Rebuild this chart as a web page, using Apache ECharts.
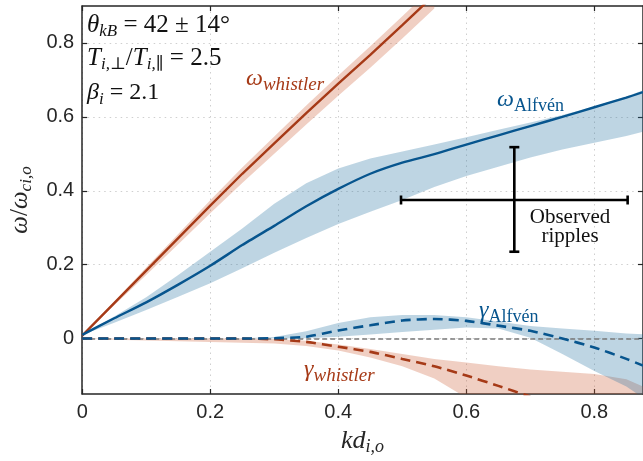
<!DOCTYPE html>
<html>
<head>
<meta charset="utf-8">
<script src="https://cdn.jsdelivr.net/npm/echarts@6/dist/echarts.min.js"></script>
<style>html,body{margin:0;padding:0;background:#fff;}#c{width:643px;height:461px;}</style>
</head>
<body>
<div id="c"></div>
<script>
// ---- data ----
const kd = [0, 0.05, 0.1, 0.15, 0.2, 0.25, 0.3, 0.35, 0.4, 0.45, 0.5, 0.55, 0.6, 0.65, 0.7, 0.75, 0.8, 0.85, 0.876];
const alfvenOmega   = [0.01, 0.055, 0.098, 0.146, 0.197, 0.253, 0.305, 0.358, 0.405, 0.446, 0.476, 0.499, 0.525, 0.55, 0.575, 0.6, 0.626, 0.652, 0.667];
const alfvenOmegaHi = [0.01, 0.06, 0.112, 0.172, 0.235, 0.298, 0.365, 0.42, 0.46, 0.487, 0.506, 0.525, 0.545, 0.565, 0.585, 0.605, 0.628, 0.655, 0.672];
const alfvenOmegaLo = [0.01, 0.043, 0.077, 0.113, 0.15, 0.19, 0.232, 0.272, 0.31, 0.343, 0.375, 0.41, 0.44, 0.465, 0.49, 0.512, 0.53, 0.548, 0.56];

const kdW = [0, 0.05, 0.1, 0.15, 0.2, 0.25, 0.3, 0.35, 0.4, 0.45, 0.5, 0.55];
const whistlerOmega   = [0.008, 0.096, 0.184, 0.272, 0.36, 0.446, 0.528, 0.61, 0.69, 0.768, 0.848, 0.93];
const whistlerOmegaHi = [0.008, 0.100, 0.192, 0.283, 0.374, 0.463, 0.547, 0.631, 0.712, 0.791, 0.872, 0.955];
const whistlerOmegaLo = [0.008, 0.090, 0.172, 0.255, 0.339, 0.421, 0.500, 0.579, 0.657, 0.733, 0.812, 0.893];

const alfvenGamma   = [0, 0, 0, 0, 0, 0, 0.001, 0.005, 0.022, 0.036, 0.049, 0.053, 0.048, 0.035, 0.021, 0.0, -0.024, -0.055, -0.073];
const alfvenGammaHi = [0, 0, 0, 0, 0, 0.001, 0.004, 0.02, 0.042, 0.058, 0.064, 0.064, 0.058, 0.046, 0.034, 0.027, 0.021, 0.014, 0.012];
const alfvenGammaLo = [0, 0, 0, 0, 0, 0, 0, 0.001, 0.005, 0.011, 0.018, 0.024, 0.03, 0.027, 0.002, -0.042, -0.088, -0.13, -0.16];

const kdG = [0, 0.05, 0.1, 0.15, 0.2, 0.25, 0.3, 0.35, 0.4, 0.45, 0.5, 0.55, 0.6, 0.65, 0.7];
const whistlerGamma   = [0, 0, 0, 0, 0, 0, -0.002, -0.009, -0.022, -0.036, -0.055, -0.075, -0.1, -0.128, -0.157];
const whistlerGammaHi = [0, 0, 0, 0, 0, 0, -0.001, -0.006, -0.016, -0.028, -0.042, -0.055, -0.065, -0.075, -0.084, -0.09, -0.096, -0.11, -0.13];
const whistlerGammaLo = [0, -0.003, -0.005, -0.007, -0.009, -0.011, -0.013, -0.02, -0.032, -0.051, -0.075, -0.108, -0.16, -0.22, -0.28, -0.33, -0.38, -0.43, -0.45];

// observed ripples: [kd centre, omega centre, kd low, kd high, omega low, omega high]
const observed = [[0.675, 0.375, 0.498, 0.852, 0.235, 0.518]];

const xTicks = [0, 0.2, 0.4, 0.6, 0.8];
const xTickLabels = ['0', '0.2', '0.4', '0.6', '0.8'];
const yTicks = [0, 0.2, 0.4, 0.6, 0.8];
const yTickLabels = ['0', '0.2', '0.4', '0.6', '0.8'];

// ---- style ----
const RED = '#a63a17';
const BLUE = '#07558e';
const RED_BAND = 'rgba(205,95,55,0.30)';
const BLUE_BAND = 'rgba(30,110,160,0.29)';
const AX = '#262626';
const SERIF = "'Liberation Serif', 'DejaVu Serif', serif";

const pairs = (xs, ys) => ys.map((y, i) => [xs[i], y]);
const rows = (xs, hi, lo) => xs.map((x, i) => [x, hi[i], lo[i]]);

function band(name, xs, hi, lo, color) {
  return {
    type: 'custom', name: name, data: rows(xs, hi, lo), z: 1, silent: true, clip: true,
    encode: { x: 0, y: [1, 2] },
    renderItem: function (params, api) {
      if (params.dataIndexInside !== 0) return null;
      const n = params.dataInsideLength;
      const top = [], bot = [];
      for (let i = 0; i < n; i++) {
        top.push(api.coord([api.value(0, i), api.value(1, i)]));
        bot.push(api.coord([api.value(0, i), api.value(2, i)]));
      }
      const cs = params.coordSys;
      return {
        type: 'polygon',
        shape: { points: top.concat(bot.reverse()) },
        style: { fill: color },
        clipPath: { type: 'rect', shape: { x: cs.x, y: cs.y, width: cs.width, height: cs.height } }
      };
    }
  };
}

const richBase = (size, sub, color) => ({
  i: { fontFamily: SERIF, fontStyle: 'italic', fontSize: size, lineHeight: 30, color: color, fill: color },
  n: { fontFamily: SERIF, fontSize: size, lineHeight: 30, color: color, fill: color },
  s: { fontFamily: SERIF, fontStyle: 'italic', fontSize: sub, lineHeight: sub, verticalAlign: 'bottom', color: color, fill: color },
  u: { fontFamily: SERIF, fontSize: sub, lineHeight: sub, verticalAlign: 'bottom', color: color, fill: color }
});

function label(x, y, text, size, sub, color) {
  return { type: 'text', x: x, y: y, z: 100,
    style: { text: text, fill: color, rich: richBase(size, sub, color), verticalAlign: 'top', align: 'left' } };
}

const chart = echarts.init(document.getElementById('c'));
const axisCommon = {
  type: 'value',
  axisLine: { show: true, onZero: false, lineStyle: { color: AX, width: 1.5 } },
  axisTick: { show: true, inside: true, length: 5, lineStyle: { color: AX, width: 1.2 } }
};

chart.setOption({
  animation: false,
  grid: { left: 76, right: 0, top: 6, bottom: 62, containLabel: false },
  xAxis: [
    Object.assign({}, axisCommon, {
      min: 0, max: 0.876, position: 'bottom',
      axisTick: Object.assign({}, axisCommon.axisTick, { customValues: xTicks }),
      axisLabel: { customValues: xTicks, formatter: v => xTickLabels[xTicks.indexOf(v)], fontFamily: "'Liberation Sans', Arial, sans-serif", fontSize: 20, color: AX, margin: 8 },
      splitLine: { show: true, lineStyle: { type: [1.5, 4], color: '#cfcfcf', width: 1 } },
      name: '{i|kd}{s|i,o}', nameLocation: 'middle', nameGap: 32,
      nameTextStyle: { rich: richBase(26, 18, AX) }
    }),
    Object.assign({}, axisCommon, {
      min: 0, max: 0.876, position: 'top',
      axisTick: Object.assign({}, axisCommon.axisTick, { customValues: xTicks }),
      axisLabel: { show: false }, splitLine: { show: false }
    })
  ],
  yAxis: [
    Object.assign({}, axisCommon, {
      min: -0.15, max: 0.9, position: 'left',
      axisTick: Object.assign({}, axisCommon.axisTick, { customValues: yTicks }),
      axisLabel: { customValues: yTicks, formatter: v => yTickLabels[yTicks.indexOf(v)], fontFamily: "'Liberation Sans', Arial, sans-serif", fontSize: 20, color: AX, margin: 8 },
      splitLine: { show: true, lineStyle: { type: [1.5, 4], color: '#cfcfcf', width: 1 } },
      name: '{i|ω}{n|/}{i|ω}{s|ci,o}', nameLocation: 'middle', nameGap: 38,
      nameTextStyle: { rich: richBase(25, 17, AX) }
    }),
    Object.assign({}, axisCommon, {
      min: -0.15, max: 0.9, position: 'right',
      axisTick: Object.assign({}, axisCommon.axisTick, { customValues: yTicks }),
      axisLabel: { show: false }, splitLine: { show: false }
    })
  ],
  series: [
    { type: 'line', data: [], silent: true, z: 0,
      markLine: { silent: true, symbol: ['none', 'none'], label: { show: false },
        lineStyle: { color: '#7a7a7a', type: [5, 3], width: 1.5 }, data: [{ yAxis: 0 }] } },
    band('wo', kdW, whistlerOmegaHi, whistlerOmegaLo, RED_BAND),
    band('ao', kd, alfvenOmegaHi, alfvenOmegaLo, BLUE_BAND),
    band('wg', kd, whistlerGammaHi, whistlerGammaLo, RED_BAND),
    band('ag', kd, alfvenGammaHi, alfvenGammaLo, BLUE_BAND),
    { type: 'line', name: 'ωwhistler', data: pairs(kdW, whistlerOmega), symbol: 'none', z: 5,
      lineStyle: { color: RED, width: 2.4 } },
    { type: 'line', name: 'ωAlfvén', data: pairs(kd, alfvenOmega), symbol: 'none', smooth: 0.2, z: 5,
      lineStyle: { color: BLUE, width: 2.4 } },
    { type: 'line', name: 'γwhistler', data: pairs(kdG, whistlerGamma), symbol: 'none', smooth: 0.2, z: 5,
      lineStyle: { color: RED, width: 2.6, type: [10, 6] } },
    { type: 'line', name: 'γAlfvén', data: pairs(kd, alfvenGamma), symbol: 'none', smooth: 0.2, z: 6,
      lineStyle: { color: BLUE, width: 2.6, type: [10, 6] } },
    { type: 'custom', name: 'observed', data: observed, z: 8, silent: true,
      encode: { x: [0, 2, 3], y: [1, 4, 5] },
      renderItem: function (params, api) {
        const l = api.coord([api.value(2), api.value(1)]);
        const r = api.coord([api.value(3), api.value(1)]);
        const b = api.coord([api.value(0), api.value(4)]);
        const t = api.coord([api.value(0), api.value(5)]);
        const st = { stroke: '#000', lineWidth: 2.6 };
        const ch = 4.5, cv = 5;
        return { type: 'group', children: [
          { type: 'line', shape: { x1: l[0], y1: l[1], x2: r[0], y2: r[1] }, style: st },
          { type: 'line', shape: { x1: b[0], y1: b[1], x2: t[0], y2: t[1] }, style: st },
          { type: 'line', shape: { x1: l[0], y1: l[1] - ch, x2: l[0], y2: l[1] + ch }, style: st },
          { type: 'line', shape: { x1: r[0], y1: r[1] - ch, x2: r[0], y2: r[1] + ch }, style: st },
          { type: 'line', shape: { x1: t[0] - cv, y1: t[1], x2: t[0] + cv, y2: t[1] }, style: st },
          { type: 'line', shape: { x1: b[0] - cv, y1: b[1], x2: b[0] + cv, y2: b[1] }, style: st }
        ] };
      } }
  ],
  graphic: [
    label(87, 10, '{i|θ}{s|kB}{n| = 42 ± 14°}', 25, 17, '#111'),
    label(87, 43, '{i|T}{s|i,⊥}{n|/}{i|T}{s|i,∥}{n| = 2.5}', 25, 17, '#111'),
    label(87, 78, '{i|β}{s|i}{n| = 2.1}', 24, 17, '#111'),
    label(246, 64, '{i|ω}{s|whistler}', 24, 19, RED),
    label(497, 85, '{i|ω}{u|Alfvén}', 24, 18, BLUE),
    label(479, 296, '{i|γ}{u|Alfvén}', 24, 18, BLUE),
    label(304, 355, '{i|γ}{s|whistler}', 24, 19, RED),
    { type: 'text', x: 570, y: 208, z: 100,
      style: { text: 'Observed\nripples', fontFamily: SERIF, fontSize: 21, lineHeight: 19, fill: '#111', align: 'center', verticalAlign: 'top' } }
  ]
});
</script>
</body>
</html>
